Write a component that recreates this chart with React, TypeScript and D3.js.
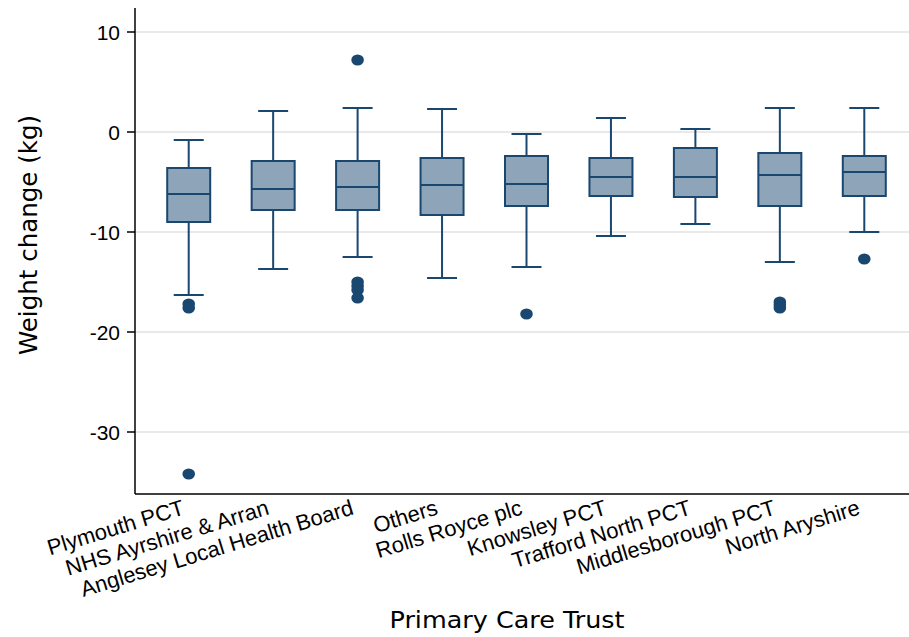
import React from "react";
import * as d3 from "d3";

const categories = [
  "Plymouth PCT",
  "NHS Ayrshire & Arran",
  "Anglesey Local Health Board",
  "Others",
  "Rolls Royce plc",
  "Knowsley PCT",
  "Trafford North PCT",
  "Middlesborough PCT",
  "North Aryshire",
];
const whiskerHigh = [-0.8, 2.1, 2.4, 2.3, -0.2, 1.4, 0.3, 2.4, 2.4];
const q3 = [-3.6, -2.9, -2.9, -2.6, -2.4, -2.6, -1.6, -2.1, -2.4];
const median = [-6.2, -5.7, -5.5, -5.3, -5.2, -4.5, -4.5, -4.3, -4.0];
const q1 = [-9.0, -7.8, -7.8, -8.3, -7.4, -6.4, -6.5, -7.4, -6.4];
const whiskerLow = [-16.3, -13.7, -12.5, -14.6, -13.5, -10.4, -9.2, -13.0, -10.0];
const outliers: number[][] = [
  [-17.2, -17.6, -34.2],
  [],
  [7.2, -15.0, -15.4, -15.8, -16.6],
  [],
  [-18.2],
  [],
  [],
  [-17.0, -17.3, -17.6],
  [-12.7],
];
const yTicks = [10, 0, -10, -20, -30];

const W = 909;
const H = 637;
const left = 135;
const top = 8;
const bottom = 494;
const plotRight = 918;

const NAVY = "#1a476f";
const FILL = "#8ea5b9";

export default function App() {
  const x = d3
    .scalePoint<string>()
    .domain(categories)
    .range([left, plotRight])
    .padding(0.636);
  const y = d3.scaleLinear().domain([-36.2, 12.4]).range([bottom, top]);
  const boxW = 43;
  const capW = 30;

  return (
    <svg
      width={W}
      height={H}
      style={{ position: "absolute", left: 0, top: 0, background: "#fff" }}
    >
      <rect x={0} y={0} width={W} height={H} fill="#fff" />
      {yTicks.map((t) => (
        <line
          key={"g" + t}
          x1={left}
          x2={W}
          y1={y(t)}
          y2={y(t)}
          stroke="#e2e2e2"
          strokeWidth={1.5}
        />
      ))}
      {categories.map((c, i) => {
        const cx = x(c)!;
        return (
          <g key={c} stroke={NAVY} strokeWidth={2} fill="none">
            <line x1={cx} x2={cx} y1={y(whiskerHigh[i])} y2={y(q3[i])} />
            <line x1={cx} x2={cx} y1={y(q1[i])} y2={y(whiskerLow[i])} />
            <line
              x1={cx - capW / 2}
              x2={cx + capW / 2}
              y1={y(whiskerHigh[i])}
              y2={y(whiskerHigh[i])}
            />
            <line
              x1={cx - capW / 2}
              x2={cx + capW / 2}
              y1={y(whiskerLow[i])}
              y2={y(whiskerLow[i])}
            />
            <rect
              x={cx - boxW / 2}
              y={y(q3[i])}
              width={boxW}
              height={y(q1[i]) - y(q3[i])}
              fill={FILL}
            />
            <line
              x1={cx - boxW / 2}
              x2={cx + boxW / 2}
              y1={y(median[i])}
              y2={y(median[i])}
            />
            {outliers[i].map((o, j) => (
              <ellipse
                key={j}
                cx={cx}
                cy={y(o)}
                rx={6.3}
                ry={5.6}
                fill={NAVY}
                stroke="none"
              />
            ))}
          </g>
        );
      })}
      {/* axes */}
      <line x1={left} x2={left} y1={top} y2={bottom} stroke="#000" strokeWidth={1.5} />
      <line x1={left} x2={W} y1={bottom} y2={bottom} stroke="#000" strokeWidth={1.5} />
      {yTicks.map((t) => (
        <g key={"t" + t}>
          <line x1={left - 8} x2={left} y1={y(t)} y2={y(t)} stroke="#000" strokeWidth={1.5} />
          <text
            x={left - 15}
            y={y(t)}
            dy="0.36em"
            textAnchor="end"
            fontFamily="Liberation Sans, Arial, sans-serif"
            fontSize={21}
            fill="#000"
          >
            {t}
          </text>
        </g>
      ))}
      {categories.map((c) => (
        <text
          key={"l" + c}
          transform={`translate(${x(c)! - 3},${514}) rotate(-17)`}
          textAnchor="end"
          fontFamily="Liberation Sans, Arial, sans-serif"
          fontSize={22}
          fill="#000"
        >
          {c}
        </text>
      ))}
      <text
        transform={`translate(37,235) rotate(-90)`}
        textAnchor="middle"
        fontFamily="DejaVu Sans, sans-serif"
        fontSize={25}
        textLength={240}
        lengthAdjust="spacingAndGlyphs"
        fill="#000"
      >
        Weight change (kg)
      </text>
      <text
        x={507}
        y={628}
        textAnchor="middle"
        fontFamily="DejaVu Sans, sans-serif"
        fontSize={23}
        textLength={235}
        lengthAdjust="spacingAndGlyphs"
        fill="#000"
      >
        Primary Care Trust
      </text>
    </svg>
  );
}
